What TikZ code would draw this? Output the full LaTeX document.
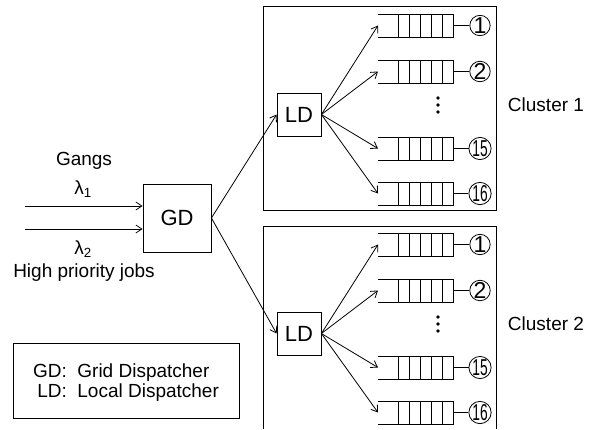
\documentclass[tikz,border=0pt]{standalone}
\usepackage{fontspec}
\setmainfont{Liberation Sans}
\usepackage{graphicx}
\usetikzlibrary{arrows.meta, positioning}

\tikzset{
  dispatcher/.style={draw, minimum width=44pt, minimum height=43pt, inner sep=0pt, font=\fontsize{22}{24}\selectfont},
  server/.style={draw, circle, minimum size=20pt, inner sep=0pt, font=\fontsize{23}{24}\selectfont},
  flow/.style={-{Straight Barb[length=6pt, width=8pt]}},
}

\begin{document}
\begin{tikzpicture}[x=1pt, y=-1pt, line width=0.8pt, font=\fontsize{19}{22}\selectfont]
\useasboundingbox (0,0) rectangle (593,429);

% --- Grid dispatcher ---
\node[dispatcher, minimum width=68pt, minimum height=68pt] (gd) at (177,218) {GD};

% --- Arrivals ---
\coordinate (in1) at (25,206);
\coordinate (in2) at (25,229);
\draw[flow] (in1) -- (in1 -| gd.west);
\draw[flow] (in2) -- (in2 -| gd.west);
\node (gangs) at (84,161) {Gangs};
\node (lam1) at (83,189) {λ\textsubscript{1}};
\node (lam2) at (83,249) {λ\textsubscript{2}};
\node (hpj) at (84,273) {High priority jobs};

% --- Clusters ---
\foreach \c/\oy in {1/0, 2/219} {
  \ifnum\c=1
    \draw (263,6) rectangle (496,210);
  \else
    \draw (263,429) -- (263,226) -- (496,226) -- (496,429); % cut at the bottom
  \fi
  \node[dispatcher] (ld\c) at (299,114.5+\oy) {LD};
  \draw[flow] (gd.east) -- (ld\c.west);
  \node (cl\c) at (546,105+\oy) {Cluster \c};
  % dots between queue 2 and queue 15
  \foreach \d in {98,105,112}
    \fill (438,\d+\oy) circle (1.8pt);
  % queues and servers
  \foreach \n/\qy in {1/25.5, 2/71.5, 15/148.5, 16/193.5} {
    \pgfmathsetmacro{\y}{\qy+\oy}
    \draw (378,\y-11.5) -- (453,\y-11.5) -- (453,\y+11.5) -- (378,\y+11.5);
    \foreach \x in {398,409,420,431,442}
      \draw (\x,\y-11.5) -- (\x,\y+11.5);
    \coordinate (q\c-\n) at (378,\y);
    \coordinate (qr\c-\n) at (453,\y);
    \node[server] (s\c-\n) at (480,\y) {\ifnum\n>9 \scalebox{0.6}[1]{\n}\else\n\fi};
    \draw (qr\c-\n) -- (s\c-\n);
    \draw[flow] (ld\c.east) -- (q\c-\n);
  }
}

% --- Legend ---
\node[draw, minimum width=226pt, minimum height=75pt] (legend) at (126,380.5) {};
\node (legtext) at ([yshift=-3pt]legend.center)
  {\begin{tabular}{@{}r@{:~~}l@{}}GD & Grid Dispatcher\\[-2pt] LD & Local Dispatcher\end{tabular}};

\end{tikzpicture}
\end{document}
